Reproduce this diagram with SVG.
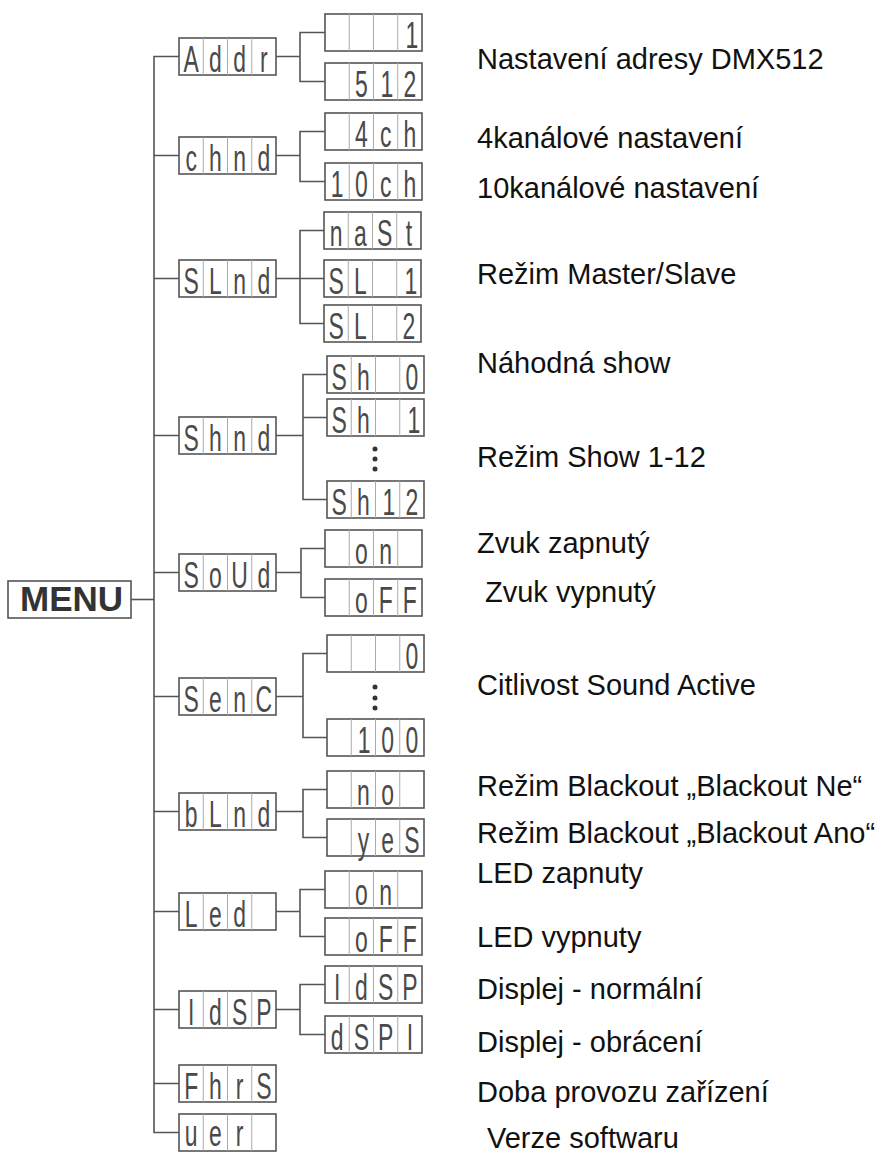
<svg xmlns="http://www.w3.org/2000/svg" xmlns:xlink="http://www.w3.org/1999/xlink" width="886" height="1155" viewBox="0 0 886 1155">
<style>
.frame{fill:#fff;stroke:#555;stroke-width:1.6}
.div{stroke:#aaa;stroke-width:1}
.seg{font-family:"Liberation Sans",Arial,sans-serif;font-size:37px;fill:#4a4a4a;text-anchor:middle}
.conn{stroke:#555;stroke-width:1.6;fill:none}
.lbl{font-family:"Liberation Sans",Arial,sans-serif;font-size:29px;fill:#111}
.menu{font-family:"Liberation Sans",Arial,sans-serif;font-size:35px;font-weight:bold;fill:#333}
.dot{fill:#333}
</style>
<defs>
<g id="disp">
<rect class="frame" x="0" y="0" width="97" height="37"/>
<line class="div" x1="24.25" y1="0" x2="24.25" y2="37"/>
<line class="div" x1="48.5" y1="0" x2="48.5" y2="37"/>
<line class="div" x1="72.75" y1="0" x2="72.75" y2="37"/>
</g>
</defs>
<rect width="886" height="1155" fill="#fff"/>

<g id="connectors">
<path class="conn" d="M131,599.5 H154"/>
<path class="conn" d="M179,56.5 H154 V1132.5 H179"/>
<path class="conn" d="M154,155.5 H179 M154,278.5 H179 M154,435.5 H179 M154,572.5 H179 M154,696.5 H179 M154,811.5 H179 M154,911.5 H179 M154,1009.5 H179 M154,1083.5 H179"/>
<path class="conn" d="M276,56.5 H300 M325,32.5 H300 V81.5 H325"/>
<path class="conn" d="M276,155.5 H300 M325,131.5 H300 V181.5 H325"/>
<path class="conn" d="M276,278.5 H324 M324,230.5 H300 V323.5 H324"/>
<path class="conn" d="M276,435.5 H303 M327,374.5 H303 V499.5 H327 M303,417.5 H327"/>
<path class="conn" d="M276,572.5 H301 M325,548.5 H301 V597.5 H325"/>
<path class="conn" d="M276,696.5 H303 M327,653.5 H303 V737.5 H327"/>
<path class="conn" d="M276,811.5 H303 M327,789.5 H303 V837.5 H327"/>
<path class="conn" d="M276,911.5 H300 M325,889.5 H300 V936.5 H325"/>
<path class="conn" d="M276,1009.5 H300 M325,984.5 H300 V1034.5 H325"/>
<circle class="dot" cx="375" cy="449" r="2.5"/>
<circle class="dot" cx="375" cy="459" r="2.5"/>
<circle class="dot" cx="375" cy="469" r="2.5"/>
<circle class="dot" cx="375" cy="687" r="2.5"/>
<circle class="dot" cx="375" cy="698" r="2.5"/>
<circle class="dot" cx="375" cy="708" r="2.5"/>
</g>

<g id="menu">
<rect class="frame" x="8" y="581" width="123" height="37"/>
<text class="menu" x="20" y="611">MENU</text>
</g>

<g id="addr" transform="translate(179,38)"><use xlink:href="#disp"/><g transform="scale(0.62 1)"><text class="seg" x="19.6 58.7 97.8 136.9" y="33.5">Addr</text></g></g>
<g id="chnd" transform="translate(179,137)"><use xlink:href="#disp"/><g transform="scale(0.62 1)"><text class="seg" x="19.6 58.7 97.8 136.9" y="33.5">chnd</text></g></g>
<g id="slnd" transform="translate(179,260)"><use xlink:href="#disp"/><g transform="scale(0.62 1)"><text class="seg" x="19.6 58.7 97.8 136.9" y="33.5">SLnd</text></g></g>
<g id="shnd" transform="translate(179,417)"><use xlink:href="#disp"/><g transform="scale(0.62 1)"><text class="seg" x="19.6 58.7 97.8 136.9" y="33.5">Shnd</text></g></g>
<g id="soud" transform="translate(179,554)"><use xlink:href="#disp"/><g transform="scale(0.62 1)"><text class="seg" x="19.6 58.7 97.8 136.9" y="33.5">SoUd</text></g></g>
<g id="senc" transform="translate(179,678)"><use xlink:href="#disp"/><g transform="scale(0.62 1)"><text class="seg" x="19.6 58.7 97.8 136.9" y="33.5">SenC</text></g></g>
<g id="blnd" transform="translate(179,793)"><use xlink:href="#disp"/><g transform="scale(0.62 1)"><text class="seg" x="19.6 58.7 97.8 136.9" y="33.5">bLnd</text></g></g>
<g id="led" transform="translate(179,893)"><use xlink:href="#disp"/><g transform="scale(0.62 1)"><text class="seg" x="19.6 58.7 97.8" y="33.5">Led</text></g></g>
<g id="idsp" transform="translate(179,991)"><use xlink:href="#disp"/><g transform="scale(0.62 1)"><text class="seg" x="19.6 58.7 97.8 136.9" y="33.5">IdSP</text></g></g>
<g id="fhrs" transform="translate(179,1065)"><use xlink:href="#disp"/><g transform="scale(0.62 1)"><text class="seg" x="19.6 58.7 97.8 136.9" y="33.5">FhrS</text></g></g>
<g id="ver" transform="translate(179,1114)"><use xlink:href="#disp"/><g transform="scale(0.62 1)"><text class="seg" x="19.6 58.7 97.8" y="32">uer</text></g></g>

<g id="addr-1" transform="translate(325,14)"><use xlink:href="#disp"/><g transform="scale(0.62 1)"><text class="seg" x="140" y="33.5">1</text></g></g>
<g id="addr-512" transform="translate(325,63)"><use xlink:href="#disp"/><g transform="scale(0.62 1)"><text class="seg" x="58.7 100 136.9" y="33.5">512</text></g></g>
<g id="ch-4" transform="translate(325,113)"><use xlink:href="#disp"/><g transform="scale(0.62 1)"><text class="seg" x="58.7 97.8 136.9" y="33.5">4ch</text></g></g>
<g id="ch-10" transform="translate(325,163)"><use xlink:href="#disp"/><g transform="scale(0.62 1)"><text class="seg" x="19.6 58.7 97.8 136.9" y="33.5">10ch</text></g></g>
<g id="sl-mast" transform="translate(324,212)"><use xlink:href="#disp"/><g transform="scale(0.62 1)"><text class="seg" x="19.6 58.7 97.8 136.9" y="33.5">naSt</text></g></g>
<g id="sl-1" transform="translate(324,260)"><use xlink:href="#disp"/><g transform="scale(0.62 1)"><text class="seg" x="19.6 58.7 140" y="33.5">SL1</text></g></g>
<g id="sl-2" transform="translate(324,305)"><use xlink:href="#disp"/><g transform="scale(0.62 1)"><text class="seg" x="19.6 58.7 136.9" y="33.5">SL2</text></g></g>
<g id="sh-0" transform="translate(327,356)"><use xlink:href="#disp"/><g transform="scale(0.62 1)"><text class="seg" x="19.6 58.7 136.9" y="33.5">Sh0</text></g></g>
<g id="sh-1" transform="translate(327,399)"><use xlink:href="#disp"/><g transform="scale(0.62 1)"><text class="seg" x="19.6 58.7 140" y="33.5">Sh1</text></g></g>
<g id="sh-12" transform="translate(327,481)"><use xlink:href="#disp"/><g transform="scale(0.62 1)"><text class="seg" x="19.6 58.7 100 136.9" y="33.5">Sh12</text></g></g>
<g id="snd-on" transform="translate(325,530)"><use xlink:href="#disp"/><g transform="scale(0.62 1)"><text class="seg" x="58.7 97.8" y="33.5">on</text></g></g>
<g id="snd-off" transform="translate(325,579)"><use xlink:href="#disp"/><g transform="scale(0.62 1)"><text class="seg" x="58.7 97.8 136.9" y="33.5">oFF</text></g></g>
<g id="sen-0" transform="translate(327,635)"><use xlink:href="#disp"/><g transform="scale(0.62 1)"><text class="seg" x="136.9" y="33.5">0</text></g></g>
<g id="sen-100" transform="translate(327,719)"><use xlink:href="#disp"/><g transform="scale(0.62 1)"><text class="seg" x="60 97.8 136.9" y="33.5">100</text></g></g>
<g id="bl-no" transform="translate(327,771)"><use xlink:href="#disp"/><g transform="scale(0.62 1)"><text class="seg" x="58.7 97.8" y="33.5">no</text></g></g>
<g id="bl-yes" transform="translate(327,819)"><use xlink:href="#disp"/><g transform="scale(0.62 1)"><text class="seg" x="58.7 97.8 136.9" y="33.5">yeS</text></g></g>
<g id="led-on" transform="translate(325,871)"><use xlink:href="#disp"/><g transform="scale(0.62 1)"><text class="seg" x="58.7 97.8" y="33.5">on</text></g></g>
<g id="led-off" transform="translate(325,918)"><use xlink:href="#disp"/><g transform="scale(0.62 1)"><text class="seg" x="58.7 97.8 136.9" y="33.5">oFF</text></g></g>
<g id="dsp-n" transform="translate(325,966)"><use xlink:href="#disp"/><g transform="scale(0.62 1)"><text class="seg" x="19.6 58.7 97.8 136.9" y="33.5">IdSP</text></g></g>
<g id="dsp-r" transform="translate(325,1016)"><use xlink:href="#disp"/><g transform="scale(0.62 1)"><text class="seg" x="19.6 58.7 97.8 136.9" y="33.5">dSPI</text></g></g>

<g id="labels">
<text class="lbl" x="477" y="69">Nastavení adresy DMX512</text>
<text class="lbl" x="477" y="148">4kanálové nastavení</text>
<text class="lbl" x="477" y="198">10kanálové nastavení</text>
<text class="lbl" x="477" y="284">Režim Master/Slave</text>
<text class="lbl" x="477" y="373">Náhodná show</text>
<text class="lbl" x="477" y="467">Režim Show 1-12</text>
<text class="lbl" x="477" y="553">Zvuk zapnutý</text>
<text class="lbl" x="485" y="602">Zvuk vypnutý</text>
<text class="lbl" x="477" y="695">Citlivost Sound Active</text>
<text class="lbl" x="477" y="796">Režim Blackout „Blackout Ne“</text>
<text class="lbl" x="477" y="843">Režim Blackout „Blackout Ano“</text>
<text class="lbl" x="477" y="883">LED zapnuty</text>
<text class="lbl" x="477" y="947">LED vypnuty</text>
<text class="lbl" x="477" y="999">Displej - normální</text>
<text class="lbl" x="477" y="1052">Displej - obrácení</text>
<text class="lbl" x="477" y="1102">Doba provozu zařízení</text>
<text class="lbl" x="487" y="1148">Verze softwaru</text>
</g>
</svg>
